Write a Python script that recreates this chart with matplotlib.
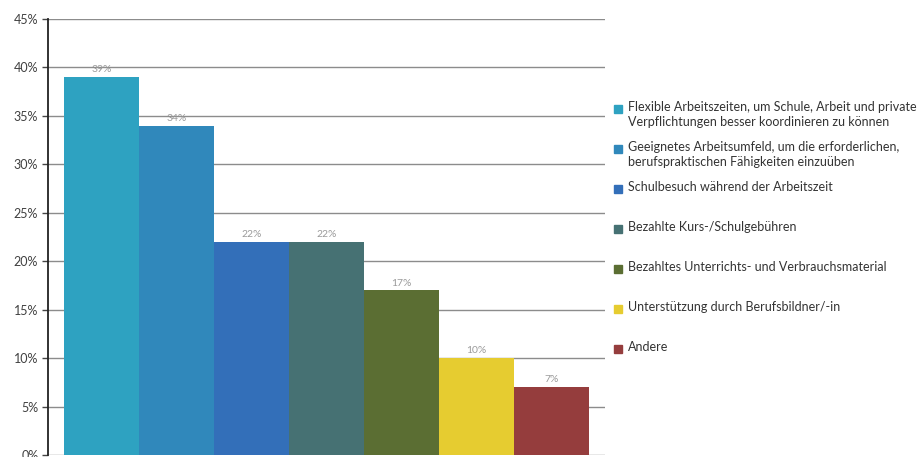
import matplotlib.pyplot as plt
from matplotlib.patches import Rectangle
from matplotlib.ticker import FuncFormatter, MultipleLocator

categories = [
    "Flexible Arbeitszeiten, um Schule, Arbeit und private\nVerpflichtungen besser koordinieren zu können",
    "Geeignetes Arbeitsumfeld, um die erforderlichen,\nberufspraktischen Fähigkeiten einzuüben",
    "Schulbesuch während der Arbeitszeit",
    "Bezahlte Kurs-/Schulgebühren",
    "Bezahltes Unterrichts- und Verbrauchsmaterial",
    "Unterstützung durch Berufsbildner/-in",
    "Andere",
]
values = [39, 34, 22, 22, 17, 10, 7]
colors = ["#2ea2c1", "#3088bb", "#336fb9", "#467173", "#5b6e33", "#e6cc30", "#953d3d"]

plt.rcParams["font.family"] = ["Lato", "DejaVu Sans"]

fig = plt.figure(figsize=(9.18, 4.57), dpi=100)
ax = fig.add_axes([48 / 918, 2 / 457, 557 / 918, 436 / 457])

xs = list(range(len(values)))
bars = ax.bar(xs, values, width=1.0, color=colors, zorder=2)
for b, v in zip(bars, values):
    ax.annotate(f"{v}%", (b.get_x() + b.get_width() / 2, v), xytext=(0, 2),
                textcoords="offset points", ha="center", va="bottom",
                fontsize=7.5, color="#9a9a9a", zorder=3)

ax.set_ylim(0, 45)
ax.set_xlim(-0.71, len(values) - 1 + 0.71)
ax.yaxis.set_major_locator(MultipleLocator(5))
ax.yaxis.set_major_formatter(FuncFormatter(lambda y, _: f"{y:.0f}%"))
ax.grid(axis="y", color="#8c8c8c", linewidth=1.0, zorder=1)
ax.set_xticks([])
for s in ["top", "right", "bottom"]:
    ax.spines[s].set_visible(False)
ax.spines["left"].set_color("#222222")
ax.spines["left"].set_linewidth(1.3)
ax.tick_params(axis="y", length=4, width=1, color="#444444", labelsize=9,
               labelcolor="#404040", pad=3)

# legend, one slot every 40 px, square aligned with first line
y0 = 109
for i, (lab, c) in enumerate(zip(categories, colors)):
    ypx = y0 + 40 * i
    yf = 1 - ypx / 457
    fig.patches.append(Rectangle((614 / 918, yf - 4 / 457), 8 / 918, 8 / 457,
                                 transform=fig.transFigure, color=c))
    fig.text(628 / 918, yf + 8 / 457, lab, fontsize=9, color="#333333",
             va="top", ha="left", linespacing=1.35)

fig.savefig("out.png", dpi=100)
